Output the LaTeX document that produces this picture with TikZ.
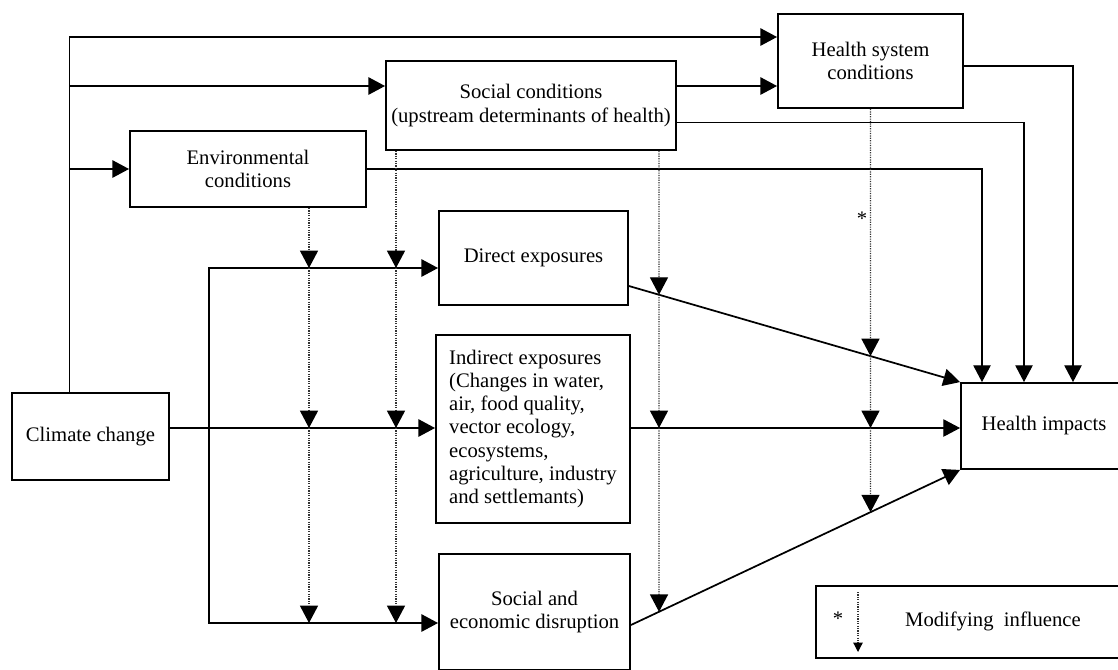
\documentclass[tikz,border=0pt]{standalone}
\usepackage{fontspec}
\setmainfont{Liberation Serif}
\usetikzlibrary{arrows.meta,calc}

\tikzset{
	blk/.style={draw, line width=1.4pt, align=center, font=\fontsize{15.5}{17.3}\selectfont},
	lbl/.style={font=\fontsize{15.5}{17.3}\selectfont},
	conn/.style={line width=1.3pt},
	thinconn/.style={line width=0.8pt},
	infl/.style={line width=0.9pt, black!80, dash pattern=on 0.9pt off 0.9pt, >={Triangle[length=13pt,width=13.5pt,black]}},
}

\begin{document}
\begin{tikzpicture}[x=0.75pt, y=-0.75pt, >={Triangle[length=12.5pt,width=13pt]}]
	\useasboundingbox (0,0) rectangle (1118,669);
	\clip (0,0) rectangle (1118,669);

	\node[blk, minimum width=117.75pt, minimum height=65.25pt] (clim) at (90.5,436.5) {Climate change};
	\node[blk, minimum width=177pt, minimum height=57pt] (env) at (248,169) {Environmental\\conditions};
	\node[blk, minimum width=217.5pt, minimum height=66.75pt] (soc) at (531,105.5) {Social conditions\\(upstream determinants of health)};
	\node[blk, minimum width=138.75pt, minimum height=70.5pt] (hsys) at (870.5,61) {Health system\\conditions};
	\node[blk, minimum width=141.75pt, minimum height=70.5pt] (direct) at (533.5,258) {Direct exposures};
	\node[blk, align=left, minimum width=145.5pt, minimum height=141pt] (indirect) at (533,429) {Indirect exposures\\(Changes in water,\\air, food quality,\\vector ecology,\\ecosystems,\\agriculture, industry\\and settlemants)};
	\node[blk, minimum width=143.25pt, minimum height=87pt] (disrupt) at (534.5,612) {Social and\\economic disruption};
	\node[blk, minimum width=124.5pt, minimum height=64.5pt] (impact) at (1044,426) {Health impacts};

	\coordinate (j1) at (69,86);
	\coordinate (j2) at (69,169);
	\coordinate (j3) at (209,428);
	\coordinate (j4) at (209,268);
	\coordinate (j5) at (209,623);

	\draw[conn,->] ([xshift=-15.75pt]clim.north) |- ([yshift=18pt]hsys.west);
	\draw[conn,->] (j1) -- (j1 -| soc.west);
	\draw[conn,->] (j2) -- (env.west);
	\draw[conn,->] (soc.east |- j1) -- (hsys.west |- j1);
	\draw[thinconn,->] ([yshift=-12.75pt]soc.east) -| ([xshift=-15pt]impact.north);
	\draw[thinconn,->] (env.east) -| ([xshift=-46.5pt]impact.north);
	\draw[thinconn,->] ([yshift=-3.75pt]hsys.east) -| ([xshift=21.75pt]impact.north);

	\draw[conn,<->] (j4 -| direct.west) -- (j4) -- (j5) -- (j5 -| disrupt.west);
	\draw[conn,->] (clim.east |- j3) -- (indirect.west |- j3);

	\coordinate (dout) at ([yshift=-21pt]direct.east);
	\coordinate (sout) at ([yshift=-9.75pt]disrupt.east);
	\coordinate (hnw) at (impact.north west);
	\coordinate (hsw) at (impact.south west);
	\draw[conn,->] (dout) -- (hnw);
	\draw[thinconn,->] (indirect.east |- j3) -- (impact.west |- j3);
	\draw[conn,->] (sout) -- (hsw);

	\coordinate (d1) at ([xshift=45.75pt]env.south);
	\coordinate (d2) at ([xshift=-101.25pt]soc.south);
	\coordinate (d3) at ([xshift=96pt]soc.south);
	\coordinate (d4) at (hsys.south);
	\coordinate (d3e) at (d3 |- j5);
	\coordinate (d4e) at (d4 |- j5);
	\coordinate (x3a) at (intersection of d3--d3e and dout--hnw);
	\coordinate (x3c) at (intersection of d3--d3e and sout--hsw);
	\coordinate (x4a) at (intersection of d4--d4e and dout--hnw);
	\coordinate (x4c) at (intersection of d4--d4e and sout--hsw);

	\draw[infl,->] (d1) -- (d1 |- j4);
	\draw[infl,->] (d1 |- j4) -- (d1 |- j3);
	\draw[infl,->] (d1 |- j3) -- (d1 |- j5);
	\draw[infl,->] (d2) -- (d2 |- j4);
	\draw[infl,->] (d2 |- j4) -- (d2 |- j3);
	\draw[infl,->] (d2 |- j3) -- (d2 |- j5);
	\draw[infl,->] (d3) -- (x3a);
	\draw[infl,->] (x3a) -- (d3 |- j3);
	\draw[infl,->] (d3 |- j3) -- (x3c);
	\draw[infl,->] (d4) -- (x4a);
	\draw[infl,->] (x4a) -- (d4 |- j3);
	\draw[infl,->] (d4 |- j3) -- (x4c);
	\node[lbl] (ast) at (862,219) {*};

	\node[blk, minimum width=243.75pt, minimum height=54pt, anchor=north west] (legend) at (815,585) {};
	\node[lbl] (modtxt) at (993,621) {Modifying~~influence};
	\node[lbl] (mast) at (838,619) {*};
	\coordinate (l1) at ($(legend.north west)+(43,7)$);
	\coordinate (l2) at ($(legend.north west)+(43,67)$);
	\draw[infl,-{Triangle[length=7pt,width=7pt,black]}] (l1) -- (l2);
\end{tikzpicture}
\end{document}
